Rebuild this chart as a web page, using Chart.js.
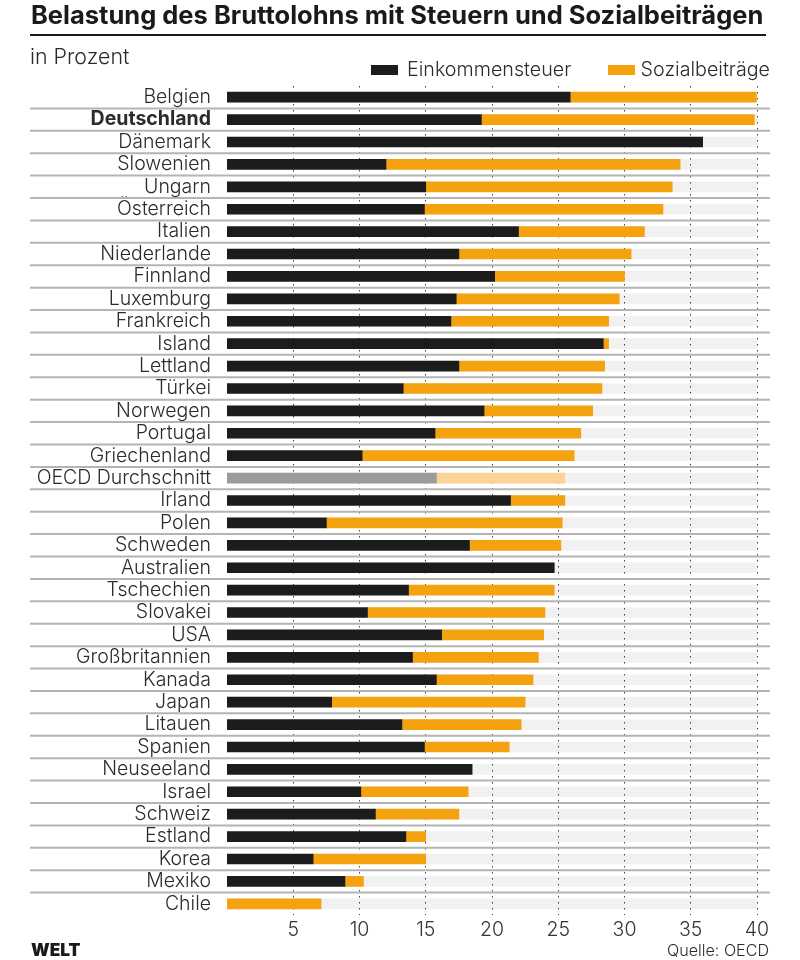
<!DOCTYPE html>
<html><head><meta charset="utf-8">
<script src="https://cdn.jsdelivr.net/npm/chart.js@4"></script>
<style>
html,body{margin:0;padding:0;background:#fff;width:800px;height:960px;overflow:hidden}
#wrap{position:relative;width:800px;height:960px;font-family:Inter,sans-serif;color:#2b2b2b}
canvas{position:absolute;left:0;top:0}
.t{position:absolute;white-space:nowrap;line-height:1}
#title{left:31px;top:2px;font-size:25.5px;font-weight:700;color:#1a1a1a}
#rule{position:absolute;left:30px;top:34px;width:736px;height:2px;background:#1a1a1a}
#sub{left:30px;top:46px;font-size:21.4px;font-weight:300}
.sw{position:absolute;height:10px;width:27px;top:65px}
.lg{top:60px;font-size:19.7px;font-weight:300}
#logo{left:31px;top:941px;font-size:17.3px;font-weight:900;color:#1a1a1a}
#src{right:31px;top:942px;font-size:16.1px;font-weight:300}
</style></head><body>
<div id="wrap">
<canvas id="c" width="800" height="960"></canvas>
<div class="t" id="title">Belastung des Bruttolohns mit Steuern und Sozialbeiträgen</div>
<div id="rule"></div>
<div class="t" id="sub">in Prozent</div>
<div class="sw" id="sw1" style="left:371px"></div><div class="t lg" style="left:407px">Einkommensteuer</div>
<div class="sw" id="sw2" style="left:608px"></div><div class="t lg" style="right:30px">Sozialbeiträge</div>
<div class="t" id="logo">WELT</div>
<div class="t" id="src">Quelle: OECD</div>
</div>
<script>
const categories=["Belgien","Deutschland","Dänemark","Slowenien","Ungarn","Österreich","Italien","Niederlande","Finnland","Luxemburg","Frankreich","Island","Lettland","Türkei","Norwegen","Portugal","Griechenland","OECD Durchschnitt","Irland","Polen","Schweden","Australien","Tschechien","Slovakei","USA","Großbritannien","Kanada","Japan","Litauen","Spanien","Neuseeland","Israel","Schweiz","Estland","Korea","Mexiko","Chile"];
const einkommensteuer=[25.9,19.2,35.9,12.0,15.0,14.9,22.0,17.5,20.2,17.3,16.9,28.4,17.5,13.3,19.4,15.7,10.2,15.8,21.4,7.5,18.3,24.7,13.7,10.6,16.2,14.0,15.8,7.9,13.2,14.9,18.5,10.1,11.2,13.5,6.5,8.9,null];
const sozialbeitraege=[14.05,20.6,null,22.2,18.6,18.0,9.5,13.0,9.8,12.3,11.9,0.4,11.0,15.0,8.2,11.0,16.0,9.7,4.1,17.8,6.9,null,11.0,13.4,7.7,9.5,7.3,14.6,9.0,6.4,null,8.1,6.3,1.5,8.5,1.4,7.1];
const skala=categories.map(()=>40);
const xTicks=[5,10,15,20,25,30,35,40];
const colTax="#1c1c1c",colSoc="#f4a20f",colTaxAvg="#9b9b9b",colSocAvg="#fbd398";
const avgIndex=categories.indexOf("OECD Durchschnitt"), boldIndex=categories.indexOf("Deutschland");
document.getElementById('sw1').style.background=colTax;
document.getElementById('sw2').style.background=colSoc;
const separators={id:'separators',beforeDatasetsDraw(ch){
  const y=ch.scales.y,c=ch.ctx;c.save();c.strokeStyle='#b4b4b4';c.lineWidth=2;
  for(let i=0;i<categories.length-1;i++){
    const p=(y.getPixelForValue(i)+y.getPixelForValue(i+1))/2;
    c.beginPath();c.moveTo(30,p);c.lineTo(770,p);c.stroke();
  }
  c.restore();
}};
new Chart(document.getElementById('c'),{
  type:'bar',
  data:{labels:categories,datasets:[
    {label:'Einkommensteuer',data:einkommensteuer,stack:'a',order:1,grouped:false,
     backgroundColor:ctx=>ctx.dataIndex===avgIndex?colTaxAvg:colTax},
    {label:'Sozialbeiträge',data:sozialbeitraege,stack:'a',order:1,grouped:false,
     backgroundColor:ctx=>ctx.dataIndex===avgIndex?colSocAvg:colSoc},
    {label:'Skala',data:skala,stack:'b',order:2,grouped:false,backgroundColor:'rgba(0,0,0,0.055)'}
  ]},
  options:{
    indexAxis:'y',responsive:false,animation:false,devicePixelRatio:1,
    layout:{padding:{left:0,right:43,top:86,bottom:0}},
    datasets:{bar:{barThickness:10,borderWidth:0}},
    plugins:{legend:{display:false},title:{display:false},tooltip:{enabled:false}},
    scales:{
      x:{type:'linear',stacked:true,min:0,max:40,position:'bottom',
        afterBuildTicks(a){a.ticks=xTicks.map(v=>({value:v}));},
        afterFit(a){a.height=45;},
        grid:{color:'#444',lineWidth:1,tickLength:0,drawTicks:false},
        border:{display:false,dash:[1.5,4.5]},
        ticks:{color:'#333',padding:3,maxRotation:0,autoSkip:false,font:{family:'Inter',size:19.5,weight:'300'}}},
      y:{stacked:true,position:'left',
        afterFit(a){a.width=227;},
        grid:{display:false},border:{display:false},
        ticks:{autoSkip:false,color:'#2b2b2b',padding:8,
          font:ctx=>({family:'Inter',size:19.5,weight:ctx.index===boldIndex?'700':'300'})}}
    }
  },
  plugins:[separators]
});
</script>
</body></html>
